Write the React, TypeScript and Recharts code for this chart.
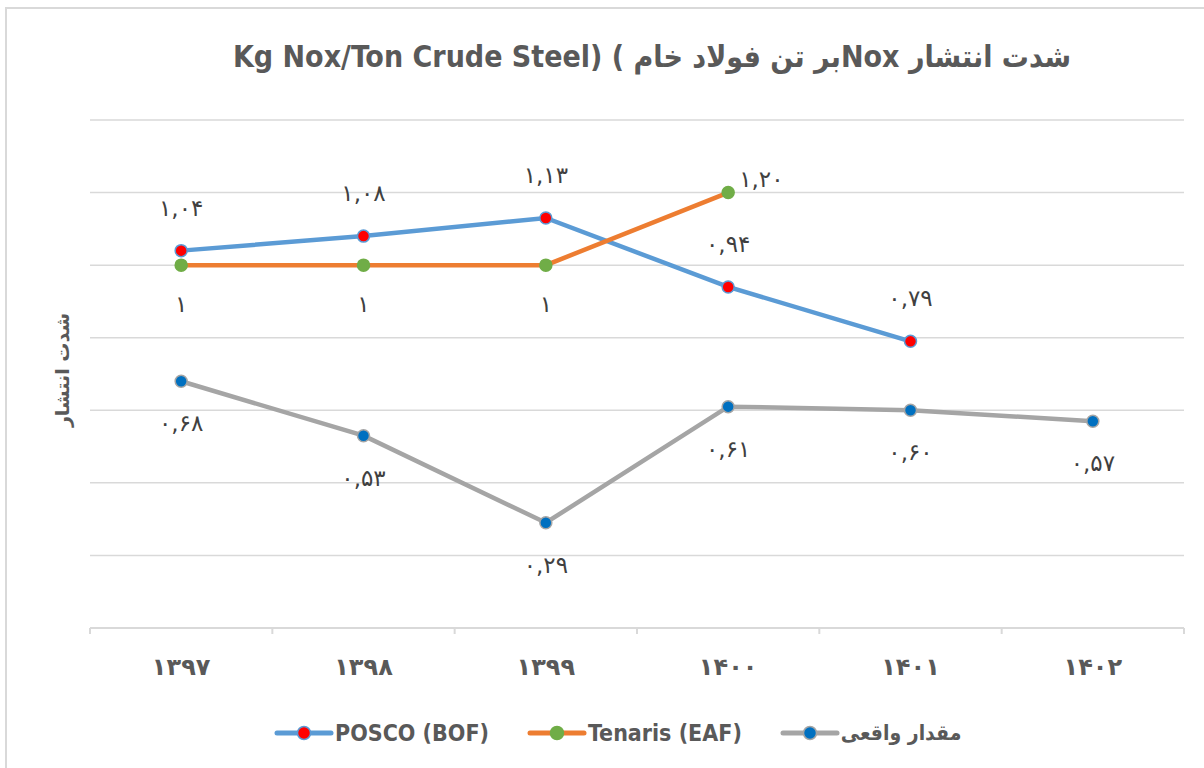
import React from 'react';
import { LineChart, Line, XAxis, YAxis, CartesianGrid, LabelList, Legend } from 'recharts';

const categories = ['۱۳۹۷', '۱۳۹۸', '۱۳۹۹', '۱۴۰۰', '۱۴۰۱', '۱۴۰۲'];
const poscoValues: (number | null)[] = [1.04, 1.08, 1.13, 0.94, 0.79, null];
const tenarisValues: (number | null)[] = [1, 1, 1, 1.2, null, null];
const actualValues: (number | null)[] = [0.68, 0.53, 0.29, 0.61, 0.6, 0.57];
const yTicks = [0, 0.2, 0.4, 0.6, 0.8, 1.0, 1.2, 1.4];

const seriesNames = ['POSCO (BOF)', 'Tenaris (EAF)', 'مقدار واقعی'];
const titleText = 'Kg Nox/Ton Crude Steel) ( بر تن فولاد خامNox  شدت انتشار';
const yLabelText = 'شدت انتشار';

const data = categories.map((c, i) => ({
  year: c,
  posco: poscoValues[i],
  tenaris: tenarisValues[i],
  actual: actualValues[i],
}));

const FA = '۰۱۲۳۴۵۶۷۸۹';
const fa = (s: string) => s.replace(/\d/g, (d) => FA[+d]);
const fmt = (v: number) => fa(Number.isInteger(v) ? String(v) : v.toFixed(2).replace('.', ','));

const LABEL_FONT = '"DejaVu Sans", sans-serif';
const UI_FONT = '"DejaVu Sans Condensed", "DejaVu Sans", sans-serif';

const GRAY_TEXT = '#595959';
const GRID = '#d9d9d9';

const C_POSCO = '#5B9BD5';
const C_TEN = '#ED7D31';
const C_ACT = '#A5A5A5';

const makeLabel = (kind: 'posco' | 'tenaris' | 'actual') => (props: any) => {
  const { x, y, value, index } = props;
  if (value == null || x == null || y == null) return null;
  let dx = 0;
  let dy = 0;
  let anchor: 'middle' | 'start' = 'middle';
  if (kind === 'posco') dy = -43;
  if (kind === 'actual') dy = 42;
  if (kind === 'tenaris') {
    if (index === 3) {
      dx = 11;
      dy = -14;
      anchor = 'start';
    } else dy = 39;
  }
  return (
    <text
      x={x + dx}
      y={y + dy}
      textAnchor={anchor}
      dominantBaseline="central"
      fontFamily={LABEL_FONT}
      fontSize={23}
      fill="#404040"
    >
      {fmt(Number(value))}
    </text>
  );
};

const XTick = (props: any) => {
  const { x, y, payload, index } = props;
  const off = payload && payload.offset != null ? payload.offset : 0;
  const isLast = index === categories.length - 1;
  return (
    <g>
      <line x1={x - off} x2={x - off} y1={y - 6} y2={y} stroke={GRID} strokeWidth={2} />
      {isLast && <line x1={x + off} x2={x + off} y1={y - 6} y2={y} stroke={GRID} strokeWidth={2} />}
      <text
        x={x}
        y={y + 33}
        textAnchor="middle"
        dominantBaseline="central"
        fontFamily={LABEL_FONT}
        fontWeight="bold"
        fontSize={24}
        fill={GRAY_TEXT}
      >
        {payload.value}
      </text>
    </g>
  );
};

const legendItems = [
  { name: seriesNames[0], line: C_POSCO, fill: '#FF0000', stroke: C_POSCO, fs: 23 },
  { name: seriesNames[1], line: C_TEN, fill: '#70AD47', stroke: '#70AD47', fs: 23 },
  { name: seriesNames[2], line: C_ACT, fill: '#0070C0', stroke: C_ACT, fs: 21 },
];

const LegendContent = () => (
  <div style={{ display: 'flex', alignItems: 'center', paddingLeft: 274, height: 30 }}>
    {legendItems.map((it, i) => (
      <div key={i} style={{ display: 'flex', alignItems: 'center', marginRight: 38 }}>
        <svg width={60} height={18}>
          <line x1={3} x2={57} y1={9} y2={9} stroke={it.line} strokeWidth={5} strokeLinecap="round" />
          <circle cx={30} cy={9} r={6.5} fill={it.fill} stroke={it.stroke} strokeWidth={1.5} />
        </svg>
        <span
          style={{
            fontFamily: UI_FONT,
            fontWeight: 'bold',
            fontSize: it.fs,
            color: GRAY_TEXT,
            marginLeft: 1,
            whiteSpace: 'nowrap',
          }}
        >
          {it.name}
        </span>
      </div>
    ))}
  </div>
);

export default function App() {
  return (
    <div
      style={{
        position: 'absolute',
        left: 0,
        top: 0,
        width: 1204,
        height: 768,
        background: '#fff',
        overflow: 'hidden',
      }}
    >
      <div
        style={{
          position: 'absolute',
          left: 5,
          top: 7,
          width: 1220,
          height: 790,
          border: `2px solid ${GRID}`,
        }}
      />
      <div
        style={{
          position: 'absolute',
          left: 0,
          top: 39,
          width: 1304,
          textAlign: 'center',
          direction: 'ltr',
          fontFamily: UI_FONT,
          fontWeight: 'bold',
          fontSize: 30,
          color: GRAY_TEXT,
          whiteSpace: 'nowrap',
        }}
      >
        {titleText}
      </div>
      <div
        style={{
          position: 'absolute',
          left: 62 - 80,
          top: 370 - 14,
          width: 160,
          height: 28,
          lineHeight: '28px',
          textAlign: 'center',
          transform: 'rotate(-90deg)',
          fontFamily: LABEL_FONT,
          fontWeight: 'bold',
          fontSize: 19,
          color: GRAY_TEXT,
          whiteSpace: 'nowrap',
        }}
      >
        {yLabelText}
      </div>
      <div style={{ position: 'absolute', left: 0, top: 0 }}>
        <LineChart
          width={1204}
          height={768}
          data={data}
          margin={{ top: 120, right: 20, left: 90, bottom: 70 }}
        >
          <CartesianGrid vertical={false} stroke={GRID} strokeWidth={1.5} />
          <XAxis
            dataKey="year"
            scale="band"
            height={40}
            axisLine={{ stroke: GRID, strokeWidth: 2 }}
            tickLine={false}
            tickSize={6}
            tickMargin={0}
            tick={<XTick />}
            interval={0}
          />
          <YAxis hide domain={[0, 1.4]} ticks={yTicks} type="number" />
          <Legend
            verticalAlign="bottom"
            content={<LegendContent />}
            wrapperStyle={{ position: 'absolute', left: 0, top: 718, width: 1204, height: 30 }}
          />
          <Line
            dataKey="posco"
            name={seriesNames[0]}
            stroke={C_POSCO}
            strokeWidth={4.5}
            dot={{ r: 6, fill: '#FF0000', stroke: C_POSCO, strokeWidth: 1.5 }}
            isAnimationActive={false}
          >
            <LabelList dataKey="posco" content={makeLabel('posco')} />
          </Line>
          <Line
            dataKey="tenaris"
            name={seriesNames[1]}
            stroke={C_TEN}
            strokeWidth={4.5}
            dot={{ r: 6, fill: '#70AD47', stroke: '#70AD47', strokeWidth: 1.5 }}
            isAnimationActive={false}
          >
            <LabelList dataKey="tenaris" content={makeLabel('tenaris')} />
          </Line>
          <Line
            dataKey="actual"
            name={seriesNames[2]}
            stroke={C_ACT}
            strokeWidth={4.5}
            dot={{ r: 6, fill: '#0070C0', stroke: C_ACT, strokeWidth: 1.5 }}
            isAnimationActive={false}
          >
            <LabelList dataKey="actual" content={makeLabel('actual')} />
          </Line>
        </LineChart>
      </div>
    </div>
  );
}
